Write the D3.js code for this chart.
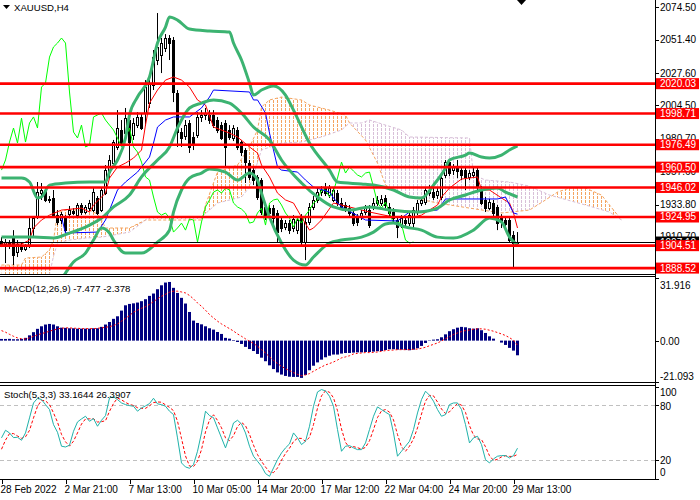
<!DOCTYPE html>
<html><head><meta charset="utf-8">
<script src="https://cdn.jsdelivr.net/npm/d3@7"></script>
<style>
html,body{margin:0;padding:0;background:#fff;}
svg{display:block;font-family:"Liberation Sans",Arial,sans-serif;}
</style></head><body>
<svg id="c" width="700" height="500"></svg>
<script>
// ---------- DATA ----------
const symbolTitle = "XAUUSD,H4";
const macdTitle = "MACD(12,26,9) -7.477 -2.378";
const stochTitle = "Stoch(5,3,3) 33.1644 26.3907";
const xLabels = ["28 Feb 2022","2 Mar 21:00","7 Mar 13:00","10 Mar 05:00","14 Mar 20:00","17 Mar 12:00","22 Mar 04:00","24 Mar 20:00","29 Mar 13:00"];
const xLabelBars = [0,16,32,48,64,80,96,112,128];
const priceTicks = [2074.50,2051.40,2027.60,2004.50,1980.70,1957.60,1933.80,1910.70,1887.60];
const levels = [2020.03,1998.71,1976.49,1960.50,1946.02,1924.95,1904.51,1888.52];
const currentPrice = 1907.10;
const macdTicks = [31.916,0,-21.093];
const stochTicks = [100,80,20,0];
const stochLevels = [80,20];

const open = [1907.8,1905.7,1907.1,1909.9,1900.0,1904.9,1902.1,1904.2,1917.1,1924.9,
1942.0,1944.2,1937.1,1938.5,1926.3,1922.8,1924.2,1927.0,1929.2,1926.3,
1933.5,1928.5,1931.3,1929.9,1938.5,1929.9,1942.0,1957.0,1963.4,1974.9,
1987.0,1984.8,1994.1,1983.4,1990.5,1996.3,1999.1,2006.2,2019.1,2036.9,
2040.5,2045.5,2052.6,2051.2,2013.4,1985.5,1982.7,1992.0,1982.0,1983.4,
1996.3,1997.7,1997.7,1997.7,1994.1,1990.5,1992.0,1987.0,1981.3,1987.0,
1978.4,1972.7,1963.4,1958.4,1953.5,1951.3,1932.1,1931.3,1931.3,1927.8,
1922.8,1917.8,1920.6,1917.1,1915.6,1924.9,1907.1,1921.4,1932.1,1937.1,
1942.7,1945.6,1940.6,1937.1,1942.0,1934.9,1933.5,1931.3,1927.8,1924.2,
1924.9,1928.5,1929.9,1932.1,1934.9,1934.9,1938.5,1932.1,1928.5,1922.8,
1919.9,1922.8,1920.6,1920.6,1928.5,1934.9,1935.6,1942.0,1942.7,1940.6,
1939.2,1954.9,1964.1,1958.4,1960.6,1958.4,1958.4,1953.5,1954.9,1958.4,
1944.2,1937.1,1931.3,1934.9,1932.1,1924.9,1922.8,1922.8,1912.1,1906.4];
const high = [1910.6,1909.2,1908.5,1915.6,1908.5,1907.1,1905.7,1924.2,1925.6,1949.9,
1949.2,1945.6,1939.9,1944.2,1929.9,1928.5,1926.3,1932.8,1931.3,1934.9,
1934.9,1933.5,1937.1,1945.6,1939.9,1946.3,1962.0,1969.1,1979.9,2001.2,
1994.1,2002.7,1997.7,1995.5,1999.8,1999.1,2022.6,2026.2,2044.0,2070.4,
2052.6,2055.4,2054.7,2053.3,2015.5,1988.4,1994.1,1994.1,1985.5,1999.8,
2001.2,2002.7,2001.2,2001.2,1996.3,1992.7,1994.1,1990.5,1990.5,1989.1,
1979.9,1974.1,1965.6,1960.6,1954.9,1952.7,1934.9,1933.5,1933.5,1929.9,
1924.9,1922.8,1922.8,1926.3,1924.9,1927.0,1924.9,1934.9,1939.9,1945.6,
1947.0,1949.2,1947.7,1946.3,1944.2,1938.5,1935.6,1933.5,1929.9,1927.0,
1929.9,1933.5,1933.5,1938.5,1939.9,1940.6,1940.6,1934.9,1931.3,1924.9,
1926.3,1924.9,1927.8,1932.1,1937.1,1939.2,1946.3,1947.7,1945.6,1946.3,
1954.9,1965.6,1965.6,1962.7,1965.6,1961.3,1959.9,1958.4,1959.9,1959.9,
1947.0,1939.2,1937.8,1937.1,1933.5,1927.0,1924.9,1924.2,1914.9,1914.2];
const low = [1903.5,1892.1,1902.1,1890.7,1896.4,1900.0,1900.7,1902.8,1911.4,1923.5,
1937.1,1935.6,1934.9,1924.9,1919.2,1919.9,1914.2,1925.6,1926.3,1924.9,
1926.3,1927.0,1929.2,1928.5,1926.3,1928.5,1940.6,1952.7,1961.3,1972.7,
1976.3,1982.0,1960.6,1979.9,1988.4,1987.0,1989.8,2002.7,2015.5,2033.3,
2027.6,2042.6,2036.9,2006.9,1974.9,1974.9,1979.9,1970.6,1972.7,1981.3,
1992.7,1994.1,1991.3,1988.4,1984.8,1979.9,1960.6,1979.9,1979.1,1972.7,
1968.4,1949.2,1951.3,1947.7,1937.1,1926.3,1922.8,1924.9,1917.8,1906.4,
1914.2,1915.6,1912.8,1914.2,1912.8,1904.9,1894.2,1919.2,1929.9,1934.9,
1939.9,1939.9,1938.5,1935.6,1932.8,1929.9,1928.5,1925.6,1918.5,1918.5,
1922.8,1926.3,1917.1,1929.9,1932.8,1932.8,1931.3,1925.6,1921.4,1909.9,
1917.1,1918.5,1918.5,1917.1,1926.3,1932.8,1933.5,1939.9,1937.1,1937.8,
1937.1,1952.7,1954.2,1954.9,1952.7,1951.3,1944.2,1951.3,1952.7,1944.2,
1933.5,1928.5,1929.9,1925.6,1915.6,1917.1,1916.4,1907.1,1888.5,1904.9];
const close = [1905.7,1907.1,1904.2,1897.8,1905.7,1902.1,1904.2,1917.1,1924.2,1942.7,
1944.2,1937.1,1937.8,1926.3,1921.4,1927.0,1915.6,1929.9,1927.8,1933.5,
1928.5,1932.1,1934.9,1942.7,1927.8,1944.2,1958.4,1965.6,1978.4,1988.4,
1977.7,1995.5,1978.4,1992.0,1996.3,1988.4,2017.6,2020.5,2039.0,2046.2,
2049.0,2052.6,2049.0,2014.1,1985.5,1981.3,1990.5,1974.9,1976.3,1996.3,
1997.7,1999.1,1994.1,1990.5,1987.0,1981.3,1974.9,1982.0,1988.4,1974.9,
1971.3,1964.1,1953.5,1951.3,1939.2,1928.5,1926.3,1927.8,1924.2,1914.2,
1917.1,1920.6,1915.6,1923.5,1922.8,1907.1,1921.4,1932.1,1937.1,1942.7,
1944.2,1942.0,1945.6,1944.2,1934.9,1932.1,1930.6,1927.8,1920.6,1921.4,
1927.8,1931.3,1919.2,1934.9,1937.1,1937.8,1933.5,1927.8,1924.2,1917.8,
1924.2,1920.6,1926.3,1929.9,1934.9,1937.1,1944.2,1944.2,1939.2,1943.5,
1952.7,1964.1,1956.3,1960.6,1957.7,1954.9,1953.5,1956.3,1957.0,1946.3,
1934.9,1931.3,1935.6,1927.8,1920.6,1921.4,1919.9,1908.5,1906.4,1907.1];

// indicator lines: [bar, price]
const bbUpper = [[0,1952.7],[5,1952.7],[7,1949.9],[9,1938.5],[10,1939.2],[12,1947.7],[16,1949.2],[22,1949.9],[26,1949.9],[27,1957.0],[29,1965.6],[31,1981.3],[32,1997.7],[34,2010.5],[37,2024.8],[39,2049.0],[41,2060.4],[42,2067.6],[44,2065.4],[47,2059.0],[52,2057.6],[57,2056.9],[58,2049.0],[60,2036.9],[62,2020.5],[63,2011.9],[65,2015.5],[68,2018.4],[71,2011.9],[73,2001.2],[77,1977.7],[82,1958.4],[84,1949.9],[90,1948.5],[93,1947.7],[98,1944.2],[102,1939.2],[105,1938.5],[108,1947.7],[111,1959.9],[112,1965.6],[116,1969.1],[117,1970.6],[120,1967.7],[122,1967.0],[125,1969.1],[127,1972.7],[129,1975.6]];
const bbMiddle = [[0,1910.6],[8,1910.6],[13,1909.9],[17,1913.5],[21,1917.8],[25,1924.2],[28,1932.1],[32,1940.6],[35,1953.5],[39,1965.6],[42,1974.9],[44,1988.4],[47,2002.7],[50,2006.2],[53,2008.4],[57,2006.2],[60,1999.1],[63,1989.1],[67,1979.9],[70,1965.6],[75,1949.2],[79,1939.2],[83,1932.1],[87,1929.9],[92,1932.1],[97,1929.9],[104,1928.5],[109,1931.3],[112,1937.1],[116,1940.6],[120,1944.2],[124,1945.6],[126,1942.7],[129,1939.2]];
const bbLower = [[13,1872.0],[16,1885.0],[18,1892.8],[21,1899.2],[23,1908.5],[25,1917.1],[27,1913.5],[28,1908.5],[31,1899.2],[35,1899.2],[39,1907.1],[42,1915.6],[43,1928.5],[45,1944.2],[47,1952.7],[50,1956.3],[52,1959.2],[56,1957.0],[59,1951.3],[62,1956.3],[64,1951.3],[65,1942.0],[67,1925.0],[70,1906.4],[73,1894.2],[76,1890.7],[78,1896.4],[82,1906.4],[85,1908.5],[90,1910.6],[93,1914.2],[96,1919.9],[98,1920.6],[101,1917.8],[105,1915.6],[109,1910.6],[113,1909.9],[118,1915.6],[122,1924.2],[125,1921.4],[127,1910.6],[129,1904.9]];
const tenkan = [[0,1905.7],[5,1905.7],[7,1908.5],[8,1917.1],[10,1922.8],[12,1926.3],[15,1929.9],[20,1931.3],[22,1928.5],[23,1933.5],[26,1942.0],[27,1952.7],[29,1960.6],[31,1963.4],[33,1967.0],[35,1972.7],[36,1990.5],[37,2006.2],[39,2015.5],[41,2022.6],[43,2024.8],[45,2022.6],[47,2017.6],[49,2008.4],[51,2004.8],[53,1989.1],[57,1984.8],[59,1982.0],[62,1974.9],[64,1970.6],[65,1962.0],[67,1953.5],[69,1942.0],[71,1937.1],[73,1934.9],[75,1924.9],[77,1915.6],[78,1917.1],[80,1922.8],[83,1934.9],[87,1932.1],[92,1928.5],[98,1924.9],[103,1924.9],[105,1926.3],[107,1929.9],[109,1933.5],[110,1939.2],[112,1945.6],[114,1949.9],[115,1952.0],[119,1953.5],[120,1944.2],[122,1944.2],[125,1938.5],[127,1934.9],[128,1927.8],[129,1917.1]];
const kijun = [[0,1924.9],[15,1924.9],[16,1913.5],[24,1914.2],[26,1922.8],[27,1929.9],[29,1944.2],[31,1949.9],[34,1957.0],[37,1967.7],[38,1977.7],[39,1989.1],[41,1994.1],[43,1996.3],[47,1996.3],[50,2002.7],[52,2010.5],[53,2015.5],[62,2014.1],[63,2008.4],[64,2008.4],[66,1999.1],[67,1984.8],[69,1960.6],[70,1958.4],[74,1957.0],[76,1951.3],[78,1946.3],[82,1942.7],[83,1938.5],[85,1932.1],[91,1922.8],[99,1922.1],[102,1928.5],[109,1929.9],[111,1937.8],[124,1937.8],[126,1939.2],[127,1933.5],[128,1927.8],[129,1927.0]];
const spanA = [[0,1890.7],[5,1890.7],[6,1895.7],[10,1896.4],[12,1901.4],[13,1908.5],[14,1927.8],[16,1929.9],[22,1929.9],[24,1927.0],[25,1922.8],[26,1917.1],[32,1917.1],[36,1922.8],[50,1922.8],[51,1933.5],[54,1957.0],[59,1962.0],[62,1974.9],[64,1987.0],[65,2003.4],[67,2008.4],[70,2010.5],[75,2008.4],[77,2004.8],[82,2001.2],[86,1997.7],[87,1992.0],[91,1979.9],[94,1963.4],[96,1947.7],[102,1939.2],[109,1934.9],[117,1931.3],[125,1927.8],[132,1929.9],[136,1937.1],[139,1942.7],[142,1945.6],[146,1945.6],[150,1940.6],[152,1933.5],[155,1922.8]];
const spanB = [[0,1872.8],[11,1876.0],[12,1884.0],[13,1897.0],[14,1906.4],[17,1908.5],[21,1909.9],[25,1910.6],[28,1912.1],[32,1914.2],[35,1920.6],[37,1924.9],[50,1924.9],[54,1934.9],[60,1939.2],[62,1946.3],[65,1972.7],[70,1977.7],[75,1978.4],[80,1982.0],[85,1987.0],[87,1992.0],[90,1992.0],[92,1994.1],[96,1990.5],[100,1987.0],[102,1982.0],[117,1981.3],[118,1954.9],[121,1951.3],[127,1949.9],[132,1947.0],[137,1940.6],[146,1933.5],[152,1928.5],[155,1922.8]];
const chikouShift = 26;
const cloudBars = 156;

const macdHist = [0.85,0.85,0.9,0.7,0.7,0.9,1.4,2.7,4.3,6.0,
7.3,8.2,8.5,8.2,7.3,6.6,6.5,6.3,6.3,6.1,
6.1,6.1,6.1,6.3,6.3,7.0,8.2,9.5,11.1,12.4,
15.3,18.0,18.7,19.0,19.4,20.1,21.1,22.8,24.0,26.2,
28.2,29.6,29.9,26.9,24.3,21.8,18.9,14.6,10.2,9.0,
8.3,7.3,6.3,5.6,4.4,3.4,1.4,1.0,0.3,-0.7,
-1.7,-3.2,-4.3,-5.3,-6.8,-8.7,-10.5,-12.6,-14.5,-16.2,
-17.3,-18.0,-18.4,-18.5,-18.5,-19.0,-17.5,-15.1,-12.8,-11.1,
-9.7,-8.5,-7.7,-7.1,-7.1,-6.6,-6.3,-6.3,-6.1,-6.0,
-6.0,-5.8,-5.8,-5.6,-5.4,-5.3,-4.8,-4.4,-4.4,-4.6,
-4.6,-4.8,-4.9,-4.6,-3.9,-2.7,-1.2,0.2,0.5,0.7,
1.7,3.2,4.8,5.8,6.6,7.0,6.8,6.3,6.1,6.3,
5.3,3.9,2.2,1.0,0.0,-1.0,-2.2,-3.7,-5.1,-7.477];
const macdSignal = [5.1,4.3,3.2,2.2,1.4,0.9,0.9,1.4,2.2,2.9,
3.6,4.1,4.8,5.4,6.0,6.3,6.5,6.5,6.3,6.3,
6.1,6.1,6.1,6.1,6.3,6.5,6.8,7.1,7.7,8.5,
9.9,11.4,12.8,14.5,15.5,16.5,17.3,18.5,19.9,21.3,
22.6,23.6,24.7,25.2,25.2,24.8,24.3,23.0,21.3,19.2,
17.5,15.5,13.3,11.6,9.9,8.5,7.3,6.1,4.9,3.4,
2.2,0.9,-0.3,-1.4,-2.9,-4.6,-6.3,-8.3,-10.0,-11.7,
-13.1,-14.3,-15.3,-16.3,-17.2,-17.9,-17.5,-16.8,-15.6,-14.5,
-13.4,-12.4,-11.7,-10.9,-9.9,-8.8,-8.3,-7.7,-6.8,-6.5,
-6.3,-6.1,-6.1,-6.0,-5.8,-5.4,-5.1,-4.9,-4.8,-4.6,
-4.6,-4.6,-4.6,-4.4,-4.3,-3.9,-3.4,-2.6,-1.9,-1.2,
-0.2,1.0,2.0,3.1,3.9,4.6,5.1,5.4,5.8,6.0,
6.0,5.8,5.3,4.8,4.1,3.4,2.6,1.5,0.2,-2.378];

const stochMain = [44.4,52.7,49.8,44.7,45.1,41.8,49.8,66.2,82.5,87.6,
86.2,80.7,75.3,58.9,50.5,35.3,34.5,36.4,51.6,61.8,
65.1,68.0,62.5,65.5,57.1,63.6,68.7,88.0,89.1,86.2,
82.5,80.7,79.6,78.9,73.5,77.1,79.3,81.8,87.6,81.5,
80.7,78.9,73.5,69.8,44.4,17.1,12.7,11.3,15.3,29.8,
49.8,73.5,68.7,66.5,55.3,44.4,33.5,46.2,60.7,63.6,
59.6,49.8,35.3,24.4,18.9,13.5,5.5,2.5,11.6,20.7,
28.0,33.5,37.8,49.8,44.4,37.1,40.7,57.1,78.9,94.5,
97.1,95.6,89.8,78.9,53.5,29.8,35.3,36.0,33.5,31.6,
31.6,38.9,53.5,68.0,78.2,75.3,72.4,69.8,49.8,24.4,
29.8,35.3,40.7,53.5,71.6,86.2,95.3,90.9,84.4,75.3,
68.0,69.8,80.7,82.5,82.5,75.3,58.9,38.9,44.4,46.2,
37.1,20.7,17.1,21.5,24.4,25.1,25.1,22.5,25.1,33.16];
const stochSignal = [32,42,49.0,49.1,46.5,43.9,45.6,52.6,66.2,78.8,
85.4,84.8,80.7,71.6,61.6,48.2,40.1,35.4,40.8,49.9,
59.5,65.0,65.2,65.3,61.7,62.1,63.1,73.4,81.9,87.8,
85.9,83.1,80.9,79.7,77.3,76.5,76.6,79.4,82.9,83.6,
83.3,80.4,77.7,74.1,62.6,43.8,24.7,13.7,13.1,18.8,
31.6,51.0,64.0,69.6,63.5,55.4,44.4,41.4,46.8,56.8,
61.3,57.7,48.2,36.5,26.2,18.9,12.6,7.2,6.5,11.6,
20.1,27.4,33.1,40.4,44.0,43.8,40.7,45.0,58.9,76.8,
90.2,95.7,94.2,88.1,74.1,54.1,39.5,33.7,34.9,33.7,
32.2,34.0,41.3,53.5,66.6,73.8,75.3,72.5,64.0,48.0,
34.7,29.8,35.3,43.2,55.3,70.4,84.4,90.8,90.2,83.5,
75.9,71.0,72.8,77.7,81.9,80.1,72.2,57.7,47.4,43.2,
42.6,34.7,25.0,19.8,21.0,23.7,24.9,24.2,24.2,26.39];

// ---------- DRAW ----------
const svg = d3.select('#c');
const R = 655;
const x = d3.scaleLinear().domain([0,1]).range([1.5,5.5]);
const yP = d3.scaleLinear().domain([1884.3,2079.7]).range([274,0]);
const yM = d3.scaleLinear().domain([-21.093,31.916]).range([382,278]);
const yS = d3.scaleLinear().domain([0,100]).range([478.6,386.9]);
const bars = d3.range(close.length);

const defs = svg.append('defs');
defs.append('clipPath').attr('id','cpMain').append('rect').attr('x',0).attr('y',0).attr('width',R).attr('height',274);
defs.append('clipPath').attr('id','cpMacd').append('rect').attr('x',0).attr('y',277).attr('width',R).attr('height',105);
defs.append('clipPath').attr('id','cpStoch').append('rect').attr('x',0).attr('y',386).attr('width',R).attr('height',93);
const areaDown = d3.area().x(d=>x(d[0])).y0(d=>yP(d[1])).y1(400);
const areaUp = d3.area().x(d=>x(d[0])).y0(-50).y1(d=>yP(d[1]));
defs.append('clipPath').attr('id','cpAboveB').append('path').attr('d',areaUp(spanB));
defs.append('clipPath').attr('id','cpAboveA').append('path').attr('d',areaUp(spanA));
defs.append('clipPath').attr('id','cpBelowA').append('path').attr('d',areaDown(spanA));
defs.append('clipPath').attr('id','cpBelowB').append('path').attr('d',areaDown(spanB));

svg.append('rect').attr('width',700).attr('height',500).attr('fill','#fff');

const main = svg.append('g').attr('clip-path','url(#cpMain)');
// cloud: vertical dotted histogram per bar, clipped between span A and span B
const cloudIdx = d3.range(cloudBars);
function hatch(clipOuter, clipInner, color){
  const g = main.append('g').attr('clip-path',`url(#${clipOuter})`).append('g').attr('clip-path',`url(#${clipInner})`);
  g.selectAll('line').data(cloudIdx).join('line')
    .attr('x1',i=>x(i)).attr('x2',i=>x(i)).attr('y1',0).attr('y2',274)
    .attr('stroke',color).attr('stroke-width',1).attr('stroke-dasharray','3,1')
    .attr('shape-rendering','crispEdges');
}
hatch('cpBelowA','cpAboveB','#F4A460');
hatch('cpBelowB','cpAboveA','#D8BFD8');
const lineP = d3.line().x(d=>x(d[0])).y(d=>yP(d[1]));
main.append('path').attr('d',lineP(spanA)).attr('fill','none').attr('stroke','#F4A460').attr('stroke-width',1).attr('stroke-dasharray','3,2');
main.append('path').attr('d',lineP(spanB)).attr('fill','none').attr('stroke','#D8BFD8').attr('stroke-width',1).attr('stroke-dasharray','3,2');

// candles
const cg = main.append('g');
cg.selectAll('line.w').data(bars).join('line').attr('class','w')
  .attr('x1',i=>x(i)).attr('x2',i=>x(i)).attr('y1',i=>yP(high[i])).attr('y2',i=>yP(low[i]))
  .attr('stroke','#000').attr('stroke-width',1);
cg.selectAll('rect.b').data(bars).join('rect').attr('class','b')
  .attr('x',i=>x(i)-1).attr('width',2)
  .attr('y',i=>Math.round(yP(Math.max(open[i],close[i])))+0.5)
  .attr('height',i=>Math.max(1,Math.round(yP(Math.min(open[i],close[i])))-Math.round(yP(Math.max(open[i],close[i])))))
  .attr('fill',i=>close[i]>=open[i]?'#fff':'#000').attr('stroke','#000').attr('stroke-width',1);

// chikou, tenkan, kijun
const chikou = bars.filter(i=>i+chikouShift<close.length).map(i=>[i,close[i+chikouShift]]);
main.append('path').attr('d',lineP(chikou)).attr('fill','none').attr('stroke','#00FF00').attr('stroke-width',1);
main.append('path').attr('d',lineP(tenkan)).attr('fill','none').attr('stroke','#FF0000').attr('stroke-width',1);
main.append('path').attr('d',lineP(kijun)).attr('fill','none').attr('stroke','#0000FF').attr('stroke-width',1);

// bollinger
const lineBB = d3.line().x(d=>x(d[0])).y(d=>yP(d[1])).curve(d3.curveMonotoneX);
[bbUpper,bbMiddle,bbLower].forEach(s=>{
  main.append('path').attr('d',lineBB(s)).attr('fill','none').attr('stroke','#3CB371').attr('stroke-width',3).attr('stroke-linejoin','round');
});

// level lines
main.selectAll('line.lv').data(levels).join('line').attr('class','lv')
  .attr('x1',0).attr('x2',R).attr('y1',d=>yP(d)).attr('y2',d=>yP(d))
  .attr('stroke','#FF0000').attr('stroke-width',2.6);
// current price line
main.append('line').attr('x1',0).attr('x2',R).attr('y1',Math.round(yP(currentPrice))+0.5).attr('y2',Math.round(yP(currentPrice))+0.5)
  .attr('stroke','#000').attr('stroke-width',1);

// ---------- MACD ----------
const mg = svg.append('g').attr('clip-path','url(#cpMacd)');
mg.selectAll('rect').data(bars).join('rect')
  .attr('x',i=>x(i)-1.5).attr('width',3)
  .attr('y',i=>Math.min(yM(0),yM(macdHist[i]))).attr('height',i=>Math.abs(yM(macdHist[i])-yM(0)))
  .attr('fill','#000080');
mg.append('path').attr('d',d3.line().x(i=>x(i)).y(i=>yM(macdSignal[i]))(bars))
  .attr('fill','none').attr('stroke','#FF0000').attr('stroke-width',1).attr('stroke-dasharray','2,2');

// ---------- STOCH ----------
const sg = svg.append('g').attr('clip-path','url(#cpStoch)');
sg.selectAll('line.lvl').data(stochLevels).join('line').attr('class','lvl')
  .attr('x1',0).attr('x2',R).attr('y1',d=>Math.round(yS(d))+0.5).attr('y2',d=>Math.round(yS(d))+0.5)
  .attr('stroke','#C0C0C0').attr('stroke-width',1).attr('stroke-dasharray','4,3');
sg.append('path').attr('d',d3.line().x(i=>x(i)).y(i=>yS(stochSignal[i]))(bars))
  .attr('fill','none').attr('stroke','#FF0000').attr('stroke-width',1).attr('stroke-dasharray','3,2');
sg.append('path').attr('d',d3.line().x(i=>x(i)).y(i=>yS(stochMain[i]))(bars))
  .attr('fill','none').attr('stroke','#20B2AA').attr('stroke-width',1);

// ---------- FRAMES ----------
const fr = svg.append('g').attr('stroke','#000').attr('stroke-width',1);
[274.5,276.5,382.5,385.5,479.5].forEach(yy=>fr.append('line').attr('x1',0).attr('x2',R+0.5).attr('y1',yy).attr('y2',yy));
fr.append('line').attr('x1',R+0.5).attr('x2',R+0.5).attr('y1',0).attr('y2',480);

// ---------- AXES ----------
const ax = svg.append('g').attr('font-size',10).attr('fill','#000');
priceTicks.forEach(p=>{
  const yy = yP(p);
  ax.append('line').attr('x1',R).attr('x2',R+4).attr('y1',Math.round(yy)+0.5).attr('y2',Math.round(yy)+0.5).attr('stroke','#000');
  ax.append('text').attr('x',R+5).attr('y',yy).attr('dy','0.35em').text(p.toFixed(2));
});
// current price label
const cy = yP(currentPrice);
ax.append('rect').attr('x',R+1).attr('y',cy-5.5).attr('width',43).attr('height',11).attr('fill','#000');
ax.append('text').attr('x',R+5).attr('y',cy).attr('dy','0.35em').attr('fill','#fff').text(currentPrice.toFixed(2));
// level labels
levels.forEach(l=>{
  const yy = yP(l);
  ax.append('rect').attr('x',R+1).attr('y',yy-5.5).attr('width',43).attr('height',11).attr('fill','#FF0000');
  ax.append('text').attr('x',R+5).attr('y',yy).attr('dy','0.35em').attr('fill','#fff').text(l.toFixed(2));
});
// macd axis
const macdLabelY = [285.7,341,376.7];
macdTicks.forEach((v,k)=>{
  ax.append('line').attr('x1',R).attr('x2',R+4).attr('y1',Math.round(yM(v))+0.5).attr('y2',Math.round(yM(v))+0.5).attr('stroke','#000');
  ax.append('text').attr('x',R+5).attr('y',macdLabelY[k]).attr('dy','0.35em').text(v===0?'0.00':v.toFixed(3));
});
// stoch axis
const stochLabelY = [392.7,406,460.7,472.3];
stochTicks.forEach((v,k)=>{
  ax.append('line').attr('x1',R).attr('x2',R+4).attr('y1',Math.round(yS(v))+0.5).attr('y2',Math.round(yS(v))+0.5).attr('stroke','#000');
  ax.append('text').attr('x',R+5).attr('y',stochLabelY[k]).attr('dy','0.35em').text(v);
});
// x axis
xLabelBars.forEach((b,k)=>{
  const xx = Math.round(x(b))+0.5;
  ax.append('line').attr('x1',xx).attr('x2',xx).attr('y1',480).attr('y2',484).attr('stroke','#000');
  ax.append('text').attr('x',x(b)-1).attr('y',489).attr('dy','0.35em').text(xLabels[k]);
});

// titles
const tg = svg.append('g').attr('font-size',9.6).attr('fill','#000');
tg.append('path').attr('d','M3,5 L10,5 L6.5,9 Z').attr('fill','#000');
tg.append('text').attr('x',14).attr('y',7.5).attr('dy','0.35em').text(symbolTitle);
tg.append('text').attr('x',4).attr('y',289).attr('dy','0.35em').text(macdTitle);
tg.append('text').attr('x',4).attr('y',395).attr('dy','0.35em').text(stochTitle);
// chart shift marker
svg.append('path').attr('d','M517,0 L526,0 L521.5,5 Z').attr('fill','#000');
</script>
</body></html>
